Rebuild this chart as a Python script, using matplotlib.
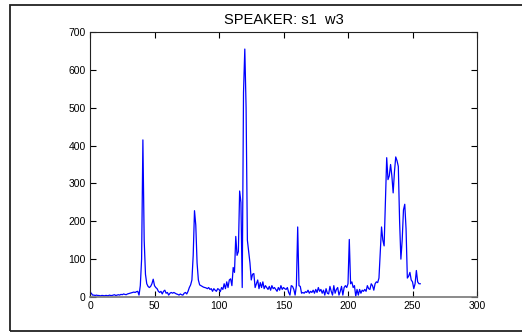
import matplotlib.pyplot as plt
from matplotlib.patches import Rectangle

plt.rcParams['font.family'] = ['Liberation Sans', 'DejaVu Sans']

title = "SPEAKER: s1  w3"

# spectrum values, one per bin (bins 1..256)
values = [
    10, 5, 5, 4, 5, 4, 4, 3, 4, 4,
    3, 4, 4, 3, 5, 4, 4, 5, 6, 4,
    5, 6, 5, 7, 6, 8, 7, 6, 8, 9,
    10, 11, 12, 13, 12, 14, 15, 5, 30, 100,
    415, 150, 60, 35, 28, 25, 28, 35, 47, 30,
    25, 22, 15, 12, 15, 8, 15, 18, 10, 12,
    5, 10, 12, 10, 12, 10, 8, 7, 5, 8,
    6, 5, 10, 12, 8, 15, 25, 32, 45, 110,
    228, 190, 90, 45, 32, 30, 28, 26, 25, 24,
    22, 25, 20, 22, 15, 22, 18, 15, 22, 20,
    14, 25, 20, 35, 22, 40, 25, 45, 48, 30,
    78, 65, 160, 110, 120, 280, 250, 25, 540, 655,
    500, 150, 120, 90, 45, 60, 62, 25, 35, 45,
    22, 38, 25, 40, 22, 30, 25, 20, 28, 18,
    30, 22, 25, 20, 15, 25, 18, 30, 20, 25,
    22, 20, 25, 12, 5, 30, 28, 20, 5, 30,
    185, 30, 28, 10, 12, 10, 14, 12, 18, 10,
    15, 12, 18, 10, 20, 12, 25, 15, 20, 10,
    18, 5, 22, 10, 8, 28, 15, 5, 30, 10,
    20, 25, 5, 15, 28, 5, 25, 30, 25, 35,
    152, 35, 40, 25, 30, 2, 20, 5, 20, 10,
    18, 15, 20, 15, 30, 22, 20, 35, 30, 18,
    35, 40, 38, 50, 120, 185, 150, 135, 250, 368,
    310, 320, 350, 320, 275, 330, 370, 360, 345, 200,
    100, 150, 230, 245, 180, 50, 55, 65, 45, 40,
    22, 35, 70, 40, 35, 35,
]
bins = list(range(1, len(values) + 1))

xticks = [0, 50, 100, 150, 200, 250, 300]
yticks = [0, 100, 200, 300, 400, 500, 600, 700]

fig = plt.figure(figsize=(5.22, 3.33), dpi=100)
fig.patches.append(Rectangle((10 / 522, 2 / 333), 1.2, 326 / 333,
                             transform=fig.transFigure, fill=False,
                             edgecolor='#222222', linewidth=1.3))

ax = fig.add_axes([90 / 522, 36 / 333, 387 / 522, 265 / 333])
ax.plot(bins, values, color='#0000ff', linewidth=0.9)

ax.set_xlim(0, 300)
ax.set_ylim(0, 700)
ax.set_xticks(xticks)
ax.set_yticks(yticks)
ax.tick_params(direction='in', length=4, width=0.8, top=True, right=True,
               labelsize=7.5, pad=3)
for s in ax.spines.values():
    s.set_linewidth(0.8)
    s.set_color('#222222')
ax.spines['bottom'].set_color('#777777')
ax.spines['bottom'].set_linewidth(1.2)

ax.set_title(title, fontsize=10.5, pad=6)

fig.savefig("out.png", dpi=100)
